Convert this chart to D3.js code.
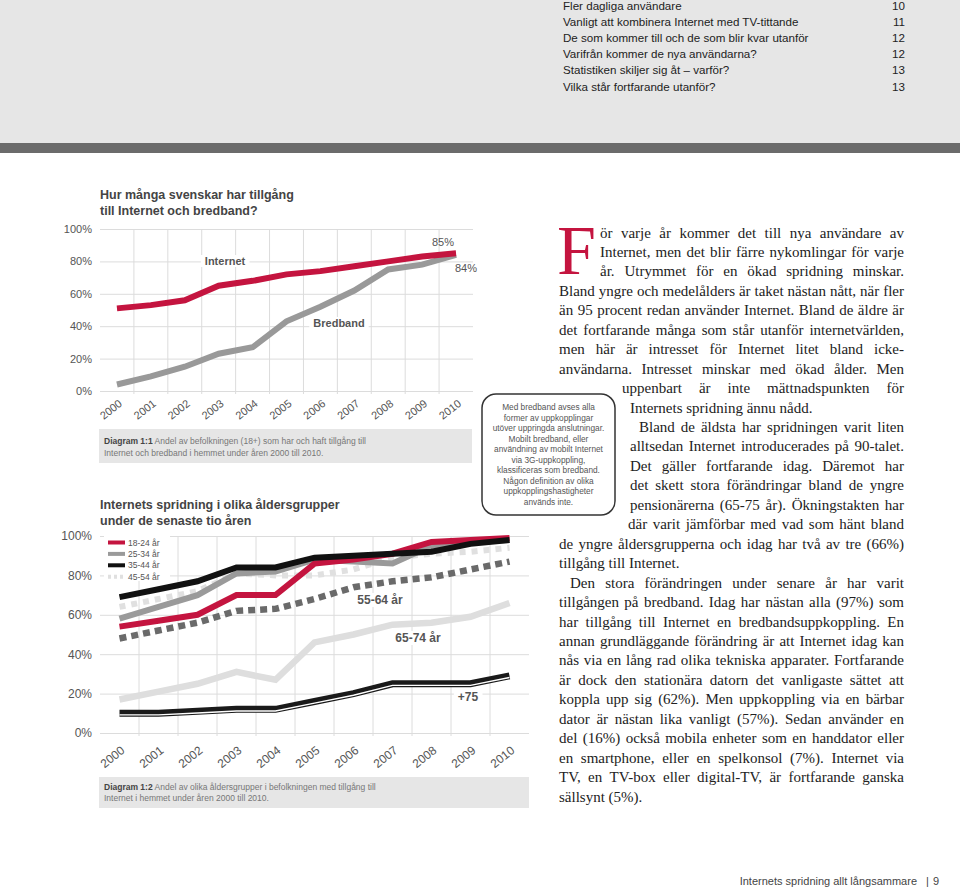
<!DOCTYPE html>
<html><head><meta charset="utf-8">
<script src="https://cdn.jsdelivr.net/npm/d3@7"></script>
<style>body{margin:0;background:#fff}svg{display:block}</style>
</head><body><svg id="c" width="960" height="889"></svg>
<script>
// ---------- data ----------
const years = ["2000","2001","2002","2003","2004","2005","2006","2007","2008","2009","2010"];
const internet = [51,53,56,65,68,72,74,77,80,83,85];
const bredband = [4,9,15,23,27,43,52,62,75,78,84];
const age1824 = [54,57,60,70,70,86,88,91,97,98,99];
const age2534 = [58,64,70,81,82,88,87,86,95,97,98];
const age3544 = [69,73,77,84,84,89,90,91,92,96,98];
const age4554 = [64,68,72,81,80,80,83,89,91,92,94];
const age5564 = [48,52,56,62,63,68,74,77,79,83,87];
const age6574 = [17,21,25,31,27,46,50,55,56,59,66];
const age75plus = [10,10,11,12,12,16,20,25,25,25,29];
const yTicks = [0,20,40,60,80,100];
const legendLabels = ["18-24 år","25-34 år","35-44 år","45-54 år"];
const tocItems = ["Fler dagliga användare","Vanligt att kombinera Internet med TV-tittande","De som kommer till och de som blir kvar utanför","Varifrån kommer de nya användarna?","Statistiken skiljer sig åt – varför?","Vilka står fortfarande utanför?"];
const tocPages = ["10","11","12","12","13","13"];
const noteLines = ["Med bredband avses alla","former av uppkopplingar","utöver uppringda anslutningar.","Mobilt bredband, eller","användning av mobilt Internet","via 3G-uppkoppling,","klassificeras som bredband.","Någon definition av olika","uppkopplingshastigheter","används inte."];
const bodyLines = [
 ["ör varje år kommer det till nya användare av",600,1],
 ["Internet, men det blir färre nykomlingar för varje",600,1],
 ["år. Utrymmet för en ökad spridning minskar.",600,1],
 ["Bland yngre och medelålders är taket nästan nått, när fler",559,1],
 ["än 95 procent redan använder Internet. Bland de äldre är",559,1],
 ["det fortfarande många som står utanför internetvärlden,",559,1],
 ["men här är intresset för Internet litet bland icke-",559,1],
 ["användarna. Intresset minskar med ökad ålder. Men",559,1],
 ["uppenbart är inte mättnadspunkten för",622,1],
 ["Internets spridning ännu nådd.",630,0],
 ["Bland de äldsta har spridningen varit liten",639,1],
 ["alltsedan Internet introducerades på 90-talet.",630,1],
 ["Det gäller fortfarande idag. Däremot har",630,1],
 ["det skett stora förändringar bland de yngre",630,1],
 ["pensionärerna (65-75 år). Ökningstakten har",630,1],
 ["där varit jämförbar med vad som hänt bland",628,1],
 ["de yngre åldersgrupperna och idag har två av tre (66%)",559,1],
 ["tillgång till Internet.",559,0],
 ["Den stora förändringen under senare år har varit",570,1],
 ["tillgången på bredband. Idag har nästan alla (97%) som",559,1],
 ["har tillgång till Internet en bredbandsuppkoppling. En",559,1],
 ["annan grundläggande förändring är att Internet idag kan",559,1],
 ["nås via en lång rad olika tekniska apparater. Fortfarande",559,1],
 ["är dock den stationära datorn det vanligaste sättet att",559,1],
 ["koppla upp sig (62%). Men uppkoppling via en bärbar",559,1],
 ["dator är nästan lika vanligt (57%). Sedan använder en",559,1],
 ["del (16%) också mobila enheter som en handdator eller",559,1],
 ["en smartphone, eller en spelkonsol (7%). Internet via",559,1],
 ["TV, en TV-box eller digital-TV, är fortfarande ganska",559,1],
 ["sällsynt (5%).",559,0]
];

const RED = "#c4143f";
const SANS = "'Liberation Sans', Arial, Helvetica, sans-serif";
const SERIF = "'Liberation Serif', 'Times New Roman', serif";
const svg = d3.select("#c");

// ---------- header ----------
svg.append("rect").attr("x",0).attr("y",0).attr("width",960).attr("height",143).attr("fill","#e6e6e6");
svg.append("rect").attr("x",0).attr("y",143).attr("width",960).attr("height",10).attr("fill","#6b6b6b");
tocItems.forEach((t,i)=>{
  svg.append("text").attr("x",563).attr("y",10+i*16.1).attr("font-family",SANS).attr("font-size",11.6).attr("fill","#222").text(t);
  svg.append("text").attr("x",905).attr("y",10+i*16.1).attr("text-anchor","end").attr("font-family",SANS).attr("font-size",11.6).attr("fill","#222").text(tocPages[i]);
});

// ---------- generic chart ----------
function chart(opt){
  const g = svg.append("g");
  const x = d3.scaleBand().domain(years).range([opt.x0,opt.x1]);
  const y = d3.scaleLinear().domain([0,100]).range([opt.yb,opt.yt]);
  const ya = g.append("g").attr("transform",`translate(${opt.x0},0)`)
    .call(d3.axisLeft(y).tickValues(yTicks).tickSize(-(opt.x1-opt.x0)).tickPadding(8).tickFormat(d=>d+"%"));
  ya.select(".domain").remove();
  ya.selectAll("line").attr("stroke","#dcdcdc");
  ya.selectAll("text").attr("font-family",SANS).attr("font-size",opt.fs).attr("fill","#555");
  g.append("g").selectAll("line").data(years.slice(1)).join("line")
    .attr("x1",d=>x(d)).attr("x2",d=>x(d)).attr("y1",y(100)).attr("y2",y(0)+3)
    .attr("stroke","#dcdcdc");
  const xa = g.append("g").attr("transform",`translate(0,${opt.yb})`)
    .call(d3.axisBottom(x).tickSize(0));
  xa.select(".domain").remove();
  xa.selectAll("text").attr("font-family",SANS).attr("font-size",opt.fs).attr("fill","#555")
    .attr("text-anchor","end").attr("dy",null).attr("y",0)
    .attr("transform",`translate(${opt.lx},${opt.ly}) rotate(-38)`);
  return {g,x,y};
}
function lbl(g,text,cx,cy,fs,weight,bg){
  const t = g.append("text").attr("x",cx).attr("y",cy).attr("text-anchor","middle")
    .attr("font-family",SANS).attr("font-size",fs).attr("font-weight",weight).attr("fill","#555").text(text);
  if(bg){
    const b = t.node().getBBox();
    g.insert("rect",()=>t.node()).attr("x",b.x-4).attr("y",b.y).attr("width",b.width+8).attr("height",b.height).attr("fill","#fff");
  }
  return t;
}
function title(lines,x,y0,dy){
  lines.forEach((l,i)=>svg.append("text").attr("x",x).attr("y",y0+i*dy).attr("font-family",SANS)
    .attr("font-size",12.5).attr("font-weight","bold").attr("fill","#444").text(l));
}
function caption(x,y,w,h,bold,l1,l2,b1,b2){
  svg.append("rect").attr("x",x).attr("y",y).attr("width",w).attr("height",h).attr("fill","#e6e6e6");
  const t = svg.append("text").attr("x",x+5).attr("y",b1).attr("font-family",SANS).attr("font-size",8.5).attr("fill","#777");
  t.append("tspan").attr("font-weight","bold").attr("fill","#444").text(bold);
  t.append("tspan").text(l1);
  svg.append("text").attr("x",x+5).attr("y",b2).attr("font-family",SANS).attr("font-size",8.5).attr("fill","#777").text(l2);
}

// ---------- chart 1 ----------
title(["Hur många svenskar har tillgång","till Internet och bredband?"],100,199,15.5);
const c1 = chart({x0:100,x1:473,yb:391,yt:229,fs:11,lx:6,ly:14});
const line1 = d3.line().x((d,i)=>c1.x(years[i])+c1.x.bandwidth()/2).y(d=>c1.y(d));
lbl(c1.g,"Internet",225,265,11,"bold",true);
lbl(c1.g,"Bredband",339,327,11,"bold",true);
c1.g.append("path").datum(bredband).attr("d",line1).attr("fill","none").attr("stroke","#999").attr("stroke-width",6);
c1.g.append("path").datum(internet).attr("d",line1).attr("fill","none").attr("stroke",RED).attr("stroke-width",6);
lbl(c1.g,internet[10]+"%",443,246,11,"normal",false);
lbl(c1.g,bredband[10]+"%",466,272,11,"normal",false);
caption(99,429,373,34,"Diagram 1:1"," Andel av befolkningen (18+) som har och haft tillgång till","Internet och bredband i hemmet under åren 2000 till 2010.",444,456);

// ---------- chart 2 ----------
title(["Internets spridning i olika åldersgrupper","under de senaste tio åren"],100,509,15.5);
const c2 = chart({x0:100,x1:529,yb:733,yt:536,fs:12,lx:6,ly:19});
const line2 = d3.line().x((d,i)=>c2.x(years[i])+c2.x.bandwidth()/2).y(d=>c2.y(d));
function ser(data,color,w,dash){
  const p = c2.g.append("path").datum(data).attr("d",line2).attr("fill","none").attr("stroke",color).attr("stroke-width",w);
  if(dash) p.attr("stroke-dasharray",dash);
  return p;
}
lbl(c2.g,"55-64 år",380,604,12,"bold",true);
lbl(c2.g,"65-74 år",418,642,12,"bold",true);
lbl(c2.g,"+75",468,701,12,"bold",true);
ser(age6574,"#dedede",6.5);
ser(age75plus,"#1a1a1a",7);
c2.g.append("path").datum(age75plus).attr("d",line2).attr("fill","none").attr("stroke","#fff").attr("stroke-width",1.4).attr("transform","translate(0,1.6)");
ser(age5564,"#6a6a6a",6.5,"7,5");
ser(age4554,"#e0e0e0",6,"6,6");
ser(age2534,"#9a9a9a",6);
ser(age1824,RED,6);
ser(age3544,"#111",6);
// legend
const lg = c2.g.append("g");
lg.append("rect").attr("x",104).attr("y",536).attr("width",66).attr("height",45).attr("fill","#fff");
const legStyles = [[RED,null],["#9a9a9a",null],["#111",null],["#e0e0e0","3,3"]];
legendLabels.forEach((l,i)=>{
  const yy = 542.5+i*11.4;
  lg.append("line").attr("x1",108).attr("x2",125).attr("y1",yy).attr("y2",yy)
    .attr("stroke",legStyles[i][0]).attr("stroke-width",4).attr("stroke-dasharray",legStyles[i][1]);
  lg.append("text").attr("x",128).attr("y",yy+3).attr("font-family",SANS).attr("font-size",8.5).attr("fill","#555").text(l);
});
caption(99,777,430,31,"Diagram 1:2"," Andel av olika åldersgrupper i befolkningen med tillgång till","Internet i hemmet under åren 2000 till 2010.",790,801);

// ---------- note box ----------
svg.append("rect").attr("x",482).attr("y",394).attr("width",133).attr("height",121).attr("rx",14)
  .attr("fill","#fff").attr("stroke","#333").attr("stroke-width",1.5);
noteLines.forEach((l,i)=>svg.append("text").attr("x",548.5).attr("y",410+i*10.5).attr("text-anchor","middle")
  .attr("font-family",SANS).attr("font-size",8.3).attr("fill","#555").text(l));

// ---------- body text ----------
svg.append("text").attr("x",557).attr("y",274).attr("font-family",SERIF).attr("font-size",70).attr("fill",RED).text("F");
const body = svg.append("g").attr("font-family",SERIF).attr("font-size",15).attr("fill","#222");
const spaceW = 3.75;
bodyLines.forEach((row,i)=>{
  const [txt,x0,just] = row;
  const base = 237.5 + i*19.45;
  const grp = body.append("g");
  const words = txt.split(" ");
  const nodes = words.map(w=>grp.append("text").attr("y",base).text(w));
  const widths = nodes.map(n=>n.node().getComputedTextLength());
  const W = d3.sum(widths), target = 904 - x0, n = words.length;
  const natural = W + spaceW*(n-1);
  let sc = 1, gap = spaceW;
  if(natural > target){ sc = target/natural; }
  else if(just && n>1){ gap = (target - W)/(n-1); }
  let cx = 0;
  nodes.forEach((nd,k)=>{ nd.attr("x",cx); cx += widths[k]+gap; });
  grp.attr("transform",`translate(${x0},0) scale(${sc},1)`);
});

// ---------- footer ----------
svg.append("text").attr("x",917).attr("y",885).attr("text-anchor","end").attr("font-family",SANS).attr("font-size",11).attr("fill","#444").text("Internets spridning allt långsammare");
svg.append("text").attr("x",926).attr("y",885).attr("font-family",SANS).attr("font-size",11).attr("fill","#444").text("|");
svg.append("text").attr("x",933).attr("y",885).attr("font-family",SANS).attr("font-size",11).attr("fill","#444").text("9");
</script></body></html>
